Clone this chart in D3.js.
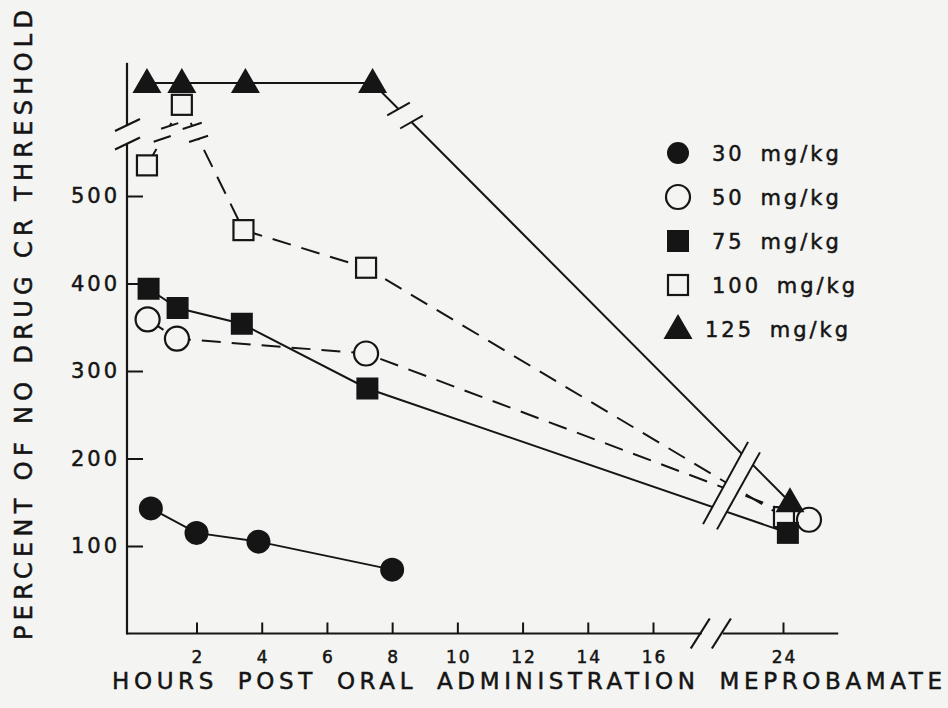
<!DOCTYPE html>
<html><head><meta charset="utf-8">
<script src="https://cdn.jsdelivr.net/npm/d3@7"></script>
<style>body{margin:0;background:#f4f4f2}svg{display:block}</style>
</head><body><svg id="c" width="948" height="708"></svg>
<script>
// ---- data ----
const hourTicks = [2, 4, 6, 8, 10, 12, 14, 16, 24];
const valueTicks = [100, 200, 300, 400, 500];
const seriesNames = ["30 mg/kg", "50 mg/kg", "75 mg/kg", "100 mg/kg", "125 mg/kg"];
const hours30 = [0.6, 2.0, 3.9, 8.0];
const values30 = [143, 115, 105, 73];
const hours50 = [0.5, 1.4, 7.2, 25.6];
const values50 = [359, 337, 320, 130];
const hours75 = [0.53, 1.42, 3.39, 7.24, 24.3];
const values75 = [394, 372, 354, 280, 115];
const hours100 = [0.48, 1.55, 3.44, 7.2, 24.06];
const values100 = [535, 648, 461, 418, 133];
const hours125 = [0.48, 1.55, 3.5, 7.4, 24.43];
const values125 = [700, 700, 700, 700, 150];
const xTitle = "HOURS POST ORAL ADMINISTRATION MEPROBAMATE";
const yTitle = "PERCENT OF NO DRUG CR THRESHOLD";

// ---- setup ----
const bg = "#f4f4f2", ink = "#151515";
const font = "'DejaVu Sans', Verdana, sans-serif";
const svg = d3.select("#c");
svg.append("rect").attr("width", 948).attr("height", 708).attr("fill", bg);

const x = d3.scaleLinear().domain([0, 16, 24]).range([131.3, 653, 783]);
const y = d3.scaleLinear().domain([0, 560, 600, 700]).range([633.5, 143.5, 125, 83]);
const axisX = 127, axisY = 633.5;

const series = [
  {name: seriesNames[0], h: hours30, v: values30, dash: null, mk: "dot"},
  {name: seriesNames[1], h: hours50, v: values50, dash: "19,11", mk: "ring"},
  {name: seriesNames[2], h: hours75, v: values75, dash: null, mk: "block"},
  {name: seriesNames[3], h: hours100, v: values100, dash: "19,11", mk: "box"},
  {name: seriesNames[4], h: hours125, v: values125, dash: null, mk: "tri"}
].map(s => ({...s, pts: s.h.map((h, i) => ({h, v: s.v[i]}))}));

// ---- lines ----
const line = d3.line().x(d => x(d.h)).y(d => y(d.v));
const gLines = svg.append("g");
series.forEach(s => {
  gLines.append("path").attr("d", line(s.pts)).attr("fill", "none")
    .attr("stroke", ink).attr("stroke-width", 2)
    .attr("stroke-dasharray", s.dash);
});

// ---- breaks on lines (y-scale break) ----
const lineBreaks = [
  {s: 3, seg: 0, v: [570, 598], dir: [1, -0.33], len: 18},
  {s: 3, seg: 1, v: [570, 598], dir: [1, -0.33], len: 20},
  {s: 4, seg: 3, v: [607, 638], dir: [1, -0.57], len: 26}
];
lineBreaks.forEach(b => {
  const a = series[b.s].pts[b.seg], c = series[b.s].pts[b.seg + 1];
  const p0 = [x(a.h), y(a.v)], p1 = [x(c.h), y(c.v)];
  const at = v => { const t = (y(v) - p0[1]) / (p1[1] - p0[1]); return [p0[0] + t * (p1[0] - p0[0]), p0[1] + t * (p1[1] - p0[1])]; };
  const q = b.v.map(at);
  svg.append("line").attr("x1", q[0][0]).attr("y1", q[0][1]).attr("x2", q[1][0]).attr("y2", q[1][1])
    .attr("stroke", bg).attr("stroke-width", 6);
  const n = Math.hypot(b.dir[0], b.dir[1]), dx = b.dir[0] / n * b.len / 2, dy = b.dir[1] / n * b.len / 2;
  q.forEach(p => svg.append("line").attr("x1", p[0] - dx).attr("y1", p[1] - dy).attr("x2", p[0] + dx).attr("y2", p[1] + dy)
    .attr("stroke", ink).attr("stroke-width", 2));
});

// ---- x-break band across lines ----
const band1 = [[21.85, 219], [19.08, 125]];
const band2 = [[22.58, 207], [19.94, 119]];
const P = d => [x(d[0]), y(d[1])];
svg.append("polygon")
  .attr("points", [P(band1[0]), P(band1[1]), P(band2[1]), P(band2[0])].map(p => p.join(",")).join(" "))
  .attr("fill", bg);
[band1, band2].forEach(bd => svg.append("line")
  .attr("x1", P(bd[0])[0]).attr("y1", P(bd[0])[1]).attr("x2", P(bd[1])[0]).attr("y2", P(bd[1])[1])
  .attr("stroke", ink).attr("stroke-width", 2));

// ---- axes ----
const txt = sel => sel.attr("fill", ink).attr("stroke", ink).attr("stroke-width", 0.5).attr("font-family", font);
const gx = svg.append("g").attr("transform", `translate(0,${axisY})`)
  .call(d3.axisBottom(x).tickValues(hourTicks).tickSize(-11).tickPadding(17).tickFormat(d3.format("d")));
gx.select(".domain").remove();
gx.selectAll(".tick line").attr("stroke", ink).attr("stroke-width", 2);
gx.selectAll(".tick text").call(txt).attr("font-size", 17).attr("letter-spacing", 2).attr("dx", 1);

const gy = svg.append("g").attr("transform", `translate(${axisX},0)`)
  .call(d3.axisLeft(y).tickValues(valueTicks).tickSize(-16).tickPadding(7).tickFormat(d3.format("d")));
gy.select(".domain").remove();
gy.selectAll(".tick line").attr("stroke", ink).attr("stroke-width", 2);
gy.selectAll(".tick text").call(txt).attr("font-size", 21).attr("letter-spacing", 3);

// axis lines with breaks
const xBreak = [19.0, 20.3];
const ax = svg.append("g").attr("stroke", ink).attr("stroke-width", 2.2).attr("fill", "none");
ax.append("line").attr("x1", axisX).attr("y1", axisY).attr("x2", x(xBreak[0])).attr("y2", axisY);
ax.append("line").attr("x1", x(xBreak[1])).attr("y1", axisY).attr("x2", x(27.4)).attr("y2", axisY);
ax.append("line").attr("x1", axisX).attr("y1", axisY + 1).attr("x2", axisX).attr("y2", y(560));
ax.append("line").attr("x1", axisX).attr("y1", y(600)).attr("x2", axisX).attr("y2", y(748));
// x axis slashes
xBreak.forEach(h => ax.append("line")
  .attr("x1", x(h) - 11).attr("y1", axisY + 15).attr("x2", x(h) + 8).attr("y2", axisY - 15));
// y axis slashes
[600, 560].forEach(v => ax.append("line")
  .attr("x1", axisX - 12).attr("y1", y(v) + 6).attr("x2", axisX + 13).attr("y2", y(v) - 6));

// ---- markers ----
function marker(g, type, cx, cy, legend) {
  const sw = 2.2;
  if (type === "dot") g.append("circle").attr("cx", cx).attr("cy", cy).attr("r", legend ? 11 : 12).attr("fill", ink);
  if (type === "ring") g.append("circle").attr("cx", cx).attr("cy", cy).attr("r", 12).attr("fill", bg).attr("stroke", ink).attr("stroke-width", sw);
  if (type === "block") { const s = 22; g.append("rect").attr("x", cx - s / 2).attr("y", cy - s / 2).attr("width", s).attr("height", s).attr("fill", ink); }
  if (type === "box") { const s = 20; g.append("rect").attr("x", cx - s / 2).attr("y", cy - s / 2).attr("width", s).attr("height", s).attr("fill", bg).attr("stroke", ink).attr("stroke-width", sw); }
  if (type === "tri") g.append("path").attr("d", `M${cx},${cy - 15}L${cx + 14.5},${cy + 10}L${cx - 14.5},${cy + 10}Z`).attr("fill", ink);
}
const gm = svg.append("g");
[1, 3, 2, 0, 4].forEach(i => {
  const s = series[i];
  s.pts.forEach(p => marker(gm, s.mk, x(p.h), y(p.v), false));
});

// ---- legend ----
const gl = svg.append("g");
series.forEach((s, i) => {
  const cy = 153 + i * 44;
  marker(gl, s.mk, 678, cy, true);
  gl.append("text").attr("x", i === 4 ? 705 : 712).attr("y", cy).attr("dy", "0.36em")
    .call(txt).attr("font-size", 21)
    .attr("letter-spacing", 3).attr("word-spacing", 6).text(s.name);
});

// ---- titles ----
svg.append("text").attr("x", 112).attr("y", 688.5).call(txt).attr("font-size", 23)
  .attr("textLength", 830).attr("lengthAdjust", "spacing").attr("word-spacing", 8).text(xTitle);
svg.append("text").attr("transform", "translate(32,640) rotate(-90)").attr("x", 0).attr("y", 0)
  .call(txt).attr("font-size", 24)
  .attr("textLength", 630).attr("lengthAdjust", "spacing").text(yTitle);
</script></body></html>
